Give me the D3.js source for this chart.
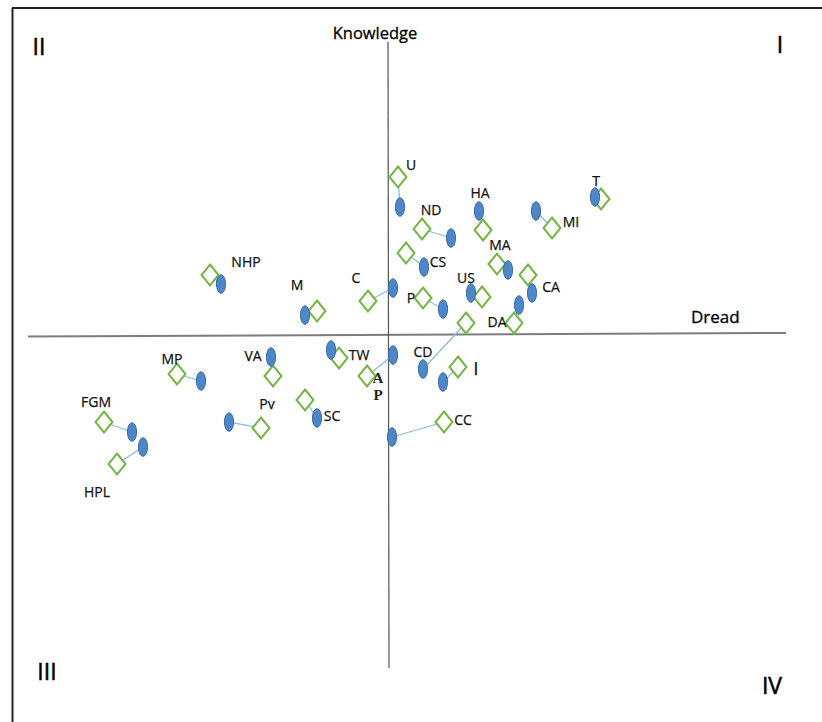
<!DOCTYPE html>
<html>
<head>
<meta charset="utf-8">
<script src="https://cdn.jsdelivr.net/npm/d3@7"></script>
<style>
  html, body { margin: 0; padding: 0; background: #fff; }
  svg { display: block; }
</style>
</head>
<body>
<svg id="chart" width="822" height="722"></svg>
<script>
// ---------------- DATA ----------------
const categories = ["U","ND","HA","MI","T","CS","MA","CA","C","P","US","DA","CD","M","NHP","TW","AP","VA","MP","SC","Pv","FGM","HPL","CC","I"];
// Blue ellipse series (Dread, Knowledge)
const blueDread     = [0.12, 0.63, 0.91, 1.48, 2.07, 0.36, 1.20, 1.44, 0.05, 0.55, 0.83, 1.31, 0.35, -0.83, -1.67, -0.57, 0.05, -1.17, -1.87, -0.71, -1.59, -2.56, -2.45, 0.04, 0.55];
const blueKnowledge = [1.28, 0.97, 1.24, 1.24, 1.38, 0.68, 0.65, 0.42, 0.47, 0.26, 0.42, 0.30, -0.34, 0.20, 0.51, -0.15, -0.20, -0.22, -0.46, -0.83, -0.87, -0.97, -1.12, -1.02, -0.47];
// Green diamond series (Dread, Knowledge)
const greenDread     = [0.10, 0.34, 0.95, 1.64, 2.13, 0.18, 1.09, 1.40, -0.20, 0.35, 0.94, 1.26, 0.78, -0.71, -1.78, -0.49, -0.21, -1.15, -2.11, -0.83, -1.27, -2.84, -2.71, 0.56, 0.70];
const greenKnowledge = [1.58, 1.06, 1.05, 1.07, 1.36, 0.82, 0.71, 0.60, 0.34, 0.37, 0.38, 0.12, 0.12, 0.24, 0.60, -0.23, -0.41, -0.41, -0.39, -0.65, -0.93, -0.87, -1.29, -0.87, -0.32];
const axisTitles = ["Dread", "Knowledge"];
const quadrantLabels = ["I", "II", "III", "IV"];
const dreadExtent = [-3.6, 3.98];
const knowledgeExtent = [-3.33, 2.93];

// ---------------- LAYOUT / STYLE ----------------
const W = 822, H = 722;
// label offsets (px) relative to the blue point
const labelOffset = {
  U:[11,-42], ND:[-20,-28], HA:[1,-18], MI:[35,11], T:[1,-16], CS:[14,-5], MA:[-8,-25],
  CA:[19,-6], C:[-37,-10], P:[-32,-11], US:[-5,-15], DA:[-22,17], CD:[0,-17], M:[-8,-30],
  NHP:[25,-22], TW:[28,5], AP:[-15,23], VA:[-18,-1], MP:[-29,-22], SC:[15,-2], Pv:[38,-18],
  FGM:[-36,-30], HPL:[-46,45], CC:[71,-17], I:[33,-14]
};
const blueFill = "#4e87c8", blueStroke = "#3b6da6";
const green = "#76b644", linkColor = "#8fb9e6";
const textFont = "'Open Sans', sans-serif";

const svg = d3.select("#chart");
const x = d3.scaleLinear().domain(dreadExtent).range([28, 786]);
const y = d3.scaleLinear().domain(knowledgeExtent).range([668, 42]);

// frame (top and left)
svg.append("line").attr("x1", 12).attr("x2", W).attr("y1", 8).attr("y2", 8)
  .attr("stroke", "#222").attr("stroke-width", 2);
svg.append("line").attr("x1", 12.5).attr("x2", 12.5).attr("y1", 8).attr("y2", H)
  .attr("stroke", "#222").attr("stroke-width", 2);

// axes
svg.append("line")
  .attr("x1", x(dreadExtent[0])).attr("x2", x(dreadExtent[1]))
  .attr("y1", y(0) + 1.5).attr("y2", y(0) - 2)
  .attr("stroke", "#7d7d7d").attr("stroke-width", 2);
svg.append("line")
  .attr("x1", x(0)).attr("x2", x(0) + 1)
  .attr("y1", y(knowledgeExtent[1])).attr("y2", y(knowledgeExtent[0]))
  .attr("stroke", "#555").attr("stroke-width", 1.2);

// axis titles
svg.append("text").text(axisTitles[1])
  .attr("x", x(0) - 13).attr("y", 39).attr("text-anchor", "middle")
  .attr("font-family", textFont).attr("font-size", 16.5).attr("fill", "#000")
  .attr("stroke", "#000").attr("stroke-width", 0.3);
svg.append("text").text(axisTitles[0])
  .attr("x", 691).attr("y", 323)
  .attr("font-family", textFont).attr("font-size", 17).attr("fill", "#000")
  .attr("stroke", "#000").attr("stroke-width", 0.3);

// quadrant labels
const qPos = [[780, 53], [39, 55], [47, 680], [772, 694]];
quadrantLabels.forEach((q, i) => {
  svg.append("text").text(q)
    .attr("x", qPos[i][0]).attr("y", qPos[i][1]).attr("text-anchor", "middle")
    .attr("font-family", textFont).attr("font-size", 23)
    .attr("fill", "#000").attr("stroke", "#000").attr("stroke-width", 0.5);
});

const pts = categories.map((c, i) => ({
  name: c,
  bx: blueDread[i], by: blueKnowledge[i],
  gx: greenDread[i], gy: greenKnowledge[i]
}));

// links
svg.append("g").selectAll("line").data(pts).join("line")
  .attr("x1", d => x(d.bx)).attr("y1", d => y(d.by))
  .attr("x2", d => x(d.gx)).attr("y2", d => y(d.gy))
  .attr("stroke", linkColor).attr("stroke-width", 1.3);

// diamonds
const dw = 8.5, dh = 10.5;
svg.append("g").selectAll("path").data(pts).join("path")
  .attr("d", d => {
    const cx = x(d.gx), cy = y(d.gy);
    return `M${cx},${cy - dh}L${cx + dw},${cy}L${cx},${cy + dh}L${cx - dw},${cy}Z`;
  })
  .attr("fill", "#fff").attr("stroke", green).attr("stroke-width", 2);

// ellipses
svg.append("g").selectAll("ellipse").data(pts).join("ellipse")
  .attr("cx", d => x(d.bx)).attr("cy", d => y(d.by))
  .attr("rx", 4.6).attr("ry", 9.3)
  .attr("fill", blueFill).attr("stroke", blueStroke).attr("stroke-width", 1);

// labels
const lg = svg.append("g");
pts.forEach(d => {
  const o = labelOffset[d.name];
  const lx = x(d.bx) + o[0], ly = y(d.by) + o[1];
  if (d.name === "AP") {
    ["A", "P"].forEach((ch, k) => {
      lg.append("text").text(ch)
        .attr("x", lx).attr("y", ly + k * 17).attr("dy", "0.35em")
        .attr("text-anchor", "middle")
        .attr("font-family", "'Liberation Serif', serif").attr("font-size", 15)
        .attr("font-weight", "bold").attr("fill", "#222");
    });
  } else {
    lg.append("text").text(d.name)
      .attr("x", lx).attr("y", ly).attr("dy", "0.36em")
      .attr("text-anchor", "middle")
      .attr("font-family", textFont)
      .attr("font-size", d.name === "I" ? 19 : 14)
      .attr("fill", "#111").attr("stroke", "#111").attr("stroke-width", 0.25);
  }
});
</script>
</body>
</html>
